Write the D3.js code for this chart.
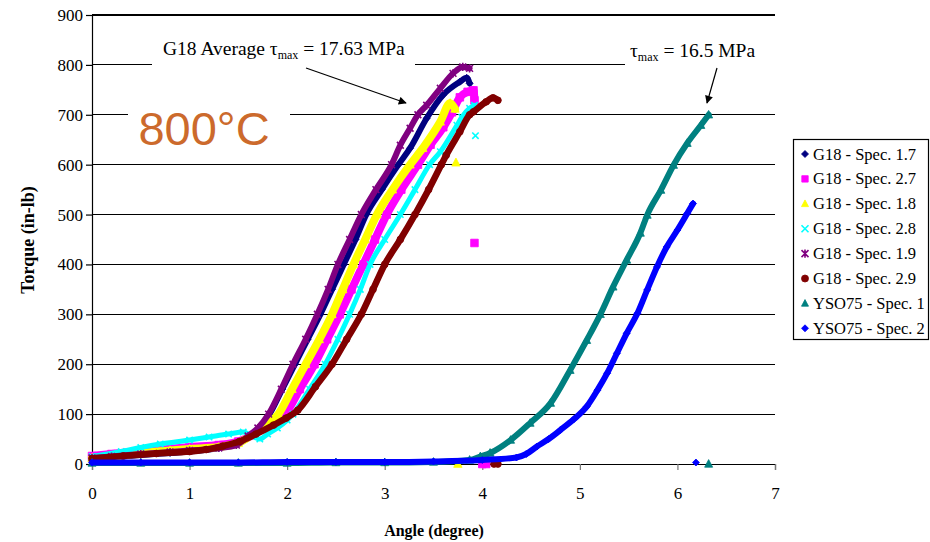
<!DOCTYPE html>
<html>
<head>
<meta charset="utf-8">
<script src="https://cdn.jsdelivr.net/npm/d3@7"></script>
<style>
  body { margin: 0; background: #fff; }
  svg { display: block; }
</style>
</head>
<body>
<svg id="chart" width="930" height="542"></svg>
<script>
// ---- data -------------------------------------------------------------
const angleTicks = [0, 1, 2, 3, 4, 5, 6, 7];
const torqueTicks = [0, 100, 200, 300, 400, 500, 600, 700, 800, 900];

const seriesNames = [
  "G18 - Spec. 1.7", "G18 - Spec. 2.7", "G18 - Spec. 1.8", "G18 - Spec. 2.8",
  "G18 - Spec. 1.9", "G18 - Spec. 2.9", "YSO75 - Spec. 1", "YSO75 - Spec. 2"
];
const seriesColors = ["#000080", "#FF00FF", "#FFFF00", "#00FFFF",
                      "#800080", "#800000", "#008080", "#0000FF"];
const seriesMarkers = ["diamond", "square", "triangle", "cross",
                       "star", "circle", "triangle", "diamond"];

// [angle (degree), torque (in-lb)]
const g18_17 = [[0,10],[0.2,14],[0.5,18],[0.8,22],[1.0,25],[1.3,32],[1.5,42],[1.6,52],[1.7,70],
  [1.82,100],[1.95,150],[2.08,200],[2.21,250],[2.34,300],[2.46,350],[2.58,400],[2.70,450],
  [2.81,500],[2.97,550],[3.14,600],[3.26,633],[3.43,693],[3.60,740],[3.77,766],[3.84,774],[3.87,763]];
const g18_27 = [[0,16],[0.2,20],[0.5,26],[0.8,30],[1.0,34],[1.3,38],[1.5,45],[1.65,58],[1.8,78],
  [1.98,100],[2.13,150],[2.28,200],[2.41,250],[2.54,300],[2.66,350],[2.78,400],[2.90,450],
  [3.02,500],[3.17,550],[3.34,600],[3.47,640],[3.60,675],[3.69,705],[3.77,735],[3.85,746],
  [3.91,749],[3.92,729]];
const g18_18 = [[0,12],[0.2,15],[0.5,22],[0.8,27],[1.0,30],[1.3,34],[1.5,42],[1.65,60],[1.8,80],
  [1.91,100],[2.05,150],[2.19,200],[2.33,250],[2.46,300],[2.57,350],[2.68,400],[2.80,450],
  [2.92,500],[3.08,550],[3.26,600],[3.39,633],[3.57,686],[3.67,723],[3.72,712]];
const g18_28 = [[0,15],[0.3,25],[0.5,33],[0.7,40],[1.0,48],[1.2,54],[1.4,60],[1.55,64],[1.65,55],
  [1.72,50],[1.8,60],[1.9,72],[2.0,88],[2.06,100],[2.23,150],[2.39,200],[2.52,250],[2.64,300],
  [2.75,350],[2.85,400],[3.0,450],[3.16,500],[3.31,550],[3.46,600],[3.57,626],[3.74,679],
  [3.79,695],[3.87,713],[3.92,719]];
const g18_19 = [[0,12],[0.2,15],[0.5,20],[0.8,24],[1.0,27],[1.3,32],[1.48,38],[1.6,56],[1.7,72],
  [1.81,100],[1.94,150],[2.06,200],[2.19,250],[2.31,300],[2.42,350],[2.52,400],[2.64,450],
  [2.76,500],[2.91,550],[3.07,600],[3.16,639],[3.26,673],[3.34,700],[3.43,719],[3.57,753],
  [3.70,783],[3.80,796],[3.87,793]];
const g18_29 = [[0,11],[0.32,16],[0.66,21],[1.0,25],[1.17,29],[1.34,36],[1.51,45],[1.68,60],
  [1.86,78],[1.99,92],[2.11,108],[2.29,155],[2.46,200],[2.61,250],[2.76,300],[2.88,350],
  [3.0,400],[3.16,450],[3.31,500],[3.45,550],[3.58,600],[3.63,619],[3.77,666],[3.87,700],
  [3.91,706],[4.04,726],[4.11,734],[4.16,729]];
const yso75_1 = [[0,2],[0.5,2],[1,2],[1.5,2],[2,2],[2.5,3],[3,3],[3.5,4],[3.87,8],[3.98,15],
  [4.08,22],[4.29,48],[4.49,82],[4.70,122],[4.90,188],[5.07,248],[5.21,300],[5.34,355],
  [5.48,409],[5.62,463],[5.69,499],[5.83,549],[5.96,599],[6.10,643],[6.24,679],[6.32,700]];
const yso75_2 = [[0,3],[0.5,3],[1,3],[1.5,3],[2,4],[2.5,4],[3,4],[3.5,5],[4,8],[4.35,13],
  [4.45,20],[4.56,35],[4.68,50],[4.80,68],[4.94,90],[5.07,115],[5.18,148],[5.28,182],
  [5.38,222],[5.48,262],[5.59,302],[5.69,349],[5.79,395],[5.89,435],[6.00,469],[6.10,502],
  [6.16,522]];

// isolated readings recorded after specimen failure
const g18_17_stray = [];
const g18_27_stray = [[3.92,443],[4.0,0],[4.04,0]];
const g18_18_stray = [[3.73,604],[3.75,0]];
const g18_28_stray = [[3.93,658]];
const g18_19_stray = [];
const g18_29_stray = [[4.12,0],[4.16,0]];
const yso75_1_stray = [[6.32,0]];
const yso75_2_stray = [[6.19,3]];

const seriesPoints = [g18_17, g18_27, g18_18, g18_28, g18_19, g18_29, yso75_1, yso75_2];
const seriesStray = [g18_17_stray, g18_27_stray, g18_18_stray, g18_28_stray,
                     g18_19_stray, g18_29_stray, yso75_1_stray, yso75_2_stray];

// ---- layout -----------------------------------------------------------
const svg = d3.select("#chart");
const serif = "'Liberation Serif', 'Times New Roman', serif";
const x = d3.scaleLinear().domain([0, 7]).range([92, 775]);
const y = d3.scaleLinear().domain([0, 900]).range([464, 15]);
const bandWidth = [6, 8, 8, 5, 6, 6.5, 6, 6];

// horizontal gridlines
svg.append("g").selectAll("line").data(torqueTicks.filter(t => t > 0)).join("line")
  .attr("x1", x(0)).attr("x2", x(7))
  .attr("y1", d => y(d)).attr("y2", d => y(d))
  .attr("stroke", "#000").attr("stroke-width", 1.2).attr("shape-rendering", "crispEdges");

// white label backgrounds that break the gridlines
svg.append("rect").attr("x", 152).attr("y", 36).attr("width", 263).attr("height", 34).attr("fill", "#fff");
svg.append("rect").attr("x", 625).attr("y", 36).attr("width", 160).attr("height", 34).attr("fill", "#fff");
svg.append("rect").attr("x", 128).attr("y", 92).attr("width", 162).attr("height", 66).attr("fill", "#fff");

// axes
const yAxis = svg.append("g").attr("transform", `translate(${x(0)},0)`)
  .call(d3.axisLeft(y).tickValues(torqueTicks).tickSize(6).tickPadding(3).tickFormat(d3.format("d")));
yAxis.select(".domain").attr("stroke", "#000").attr("stroke-width", 1.2);
yAxis.selectAll(".tick line").attr("stroke", "#000").attr("stroke-width", 1.2);
yAxis.selectAll(".tick text").attr("font-family", serif).attr("font-size", 17).attr("fill", "#000");

const xAxis = svg.append("g").attr("transform", `translate(0,${y(0)})`)
  .call(d3.axisBottom(x).tickValues(angleTicks).tickSize(6).tickPadding(17).tickFormat(d3.format("d")));
xAxis.select(".domain").attr("stroke", "#000").attr("stroke-width", 1.2);
xAxis.selectAll(".tick line").attr("stroke", "#777").attr("stroke-width", 1.2);
xAxis.selectAll(".tick text").attr("font-family", serif).attr("font-size", 17).attr("fill", "#000");

// axis titles
svg.append("text").attr("x", 434).attr("y", 536).attr("text-anchor", "middle")
  .attr("font-family", serif).attr("font-size", 16).attr("font-weight", "bold").text("Angle (degree)");
svg.append("text").attr("transform", "translate(34,240) rotate(-90)").attr("text-anchor", "middle")
  .attr("font-family", serif).attr("font-size", 18).attr("font-weight", "bold").text("Torque (in-lb)");

// ---- markers ----------------------------------------------------------
function markerPath(kind, s) {
  switch (kind) {
    case "diamond": return `M0,${-s}L${s},0L0,${s}L${-s},0Z`;
    case "square": return `M${-s},${-s}H${s}V${s}H${-s}Z`;
    case "triangle": return `M0,${-s * 1.1}L${s},${s * 0.8}L${-s},${s * 0.8}Z`;
    case "circle": return d3.symbol(d3.symbolCircle, Math.PI * s * s)();
    case "cross": return `M${-s},${-s}L${s},${s}M${-s},${s}L${s},${-s}`;
    case "star": return `M${-s},${-s}L${s},${s}M${-s},${s}L${s},${-s}M0,${-s * 1.2}V${s * 1.2}`;
  }
}
function drawMarker(sel, kind, color, s) {
  const open = kind === "cross" || kind === "star";
  return sel.append("path").attr("d", markerPath(kind, s))
    .attr("fill", open ? "none" : color)
    .attr("stroke", color).attr("stroke-width", open ? 1.6 : 0.8);
}

// ---- series -------------------------------------------------------------
const line = d3.line().x(d => x(d[0])).y(d => y(d[1])).curve(d3.curveMonotoneX);
const markerSize = [3.5, 3.8, 4.2, 3.2, 3.4, 3.4, 4, 3.5];

seriesPoints.forEach((pts, i) => {
  const g = svg.append("g");
  g.append("path").attr("d", line(pts)).attr("fill", "none")
    .attr("stroke", seriesColors[i]).attr("stroke-width", bandWidth[i])
    .attr("stroke-linejoin", "round").attr("stroke-linecap", "round");
  pts.concat(seriesStray[i]).forEach(p => {
    const m = g.append("g").attr("transform", `translate(${x(p[0])},${y(p[1])})`);
    drawMarker(m, seriesMarkers[i], seriesColors[i], markerSize[i]);
  });
});

// ---- annotations --------------------------------------------------------
svg.append("defs").append("marker").attr("id", "arrowhead")
  .attr("viewBox", "0 0 10 10").attr("refX", 9).attr("refY", 5)
  .attr("markerWidth", 10).attr("markerHeight", 8).attr("markerUnits", "userSpaceOnUse")
  .attr("orient", "auto")
  .append("path").attr("d", "M0,0L10,5L0,10Z").attr("fill", "#000");

const note1 = svg.append("text").attr("x", 163).attr("y", 55)
  .attr("font-family", serif).attr("font-size", 19.5).attr("fill", "#000");
note1.append("tspan").text("G18 Average \u03C4");
note1.append("tspan").attr("font-size", 12).attr("dy", 4).text("max");
note1.append("tspan").attr("dy", -4).text(" = 17.63 MPa");
svg.append("line").attr("x1", 306).attr("y1", 68).attr("x2", 406).attr("y2", 103)
  .attr("stroke", "#000").attr("stroke-width", 1.2).attr("marker-end", "url(#arrowhead)");

const note2 = svg.append("text").attr("x", 630).attr("y", 57)
  .attr("font-family", serif).attr("font-size", 19.5).attr("fill", "#000");
note2.append("tspan").text("\u03C4");
note2.append("tspan").attr("font-size", 12).attr("dy", 4).text("max");
note2.append("tspan").attr("dy", -4).text(" = 16.5 MPa");
svg.append("line").attr("x1", 717).attr("y1", 68).attr("x2", 707).attr("y2", 103)
  .attr("stroke", "#000").attr("stroke-width", 1.2).attr("marker-end", "url(#arrowhead)");

svg.append("text").attr("x", 204).attr("y", 145).attr("text-anchor", "middle")
  .attr("font-family", "'Liberation Sans', Arial, sans-serif").attr("font-size", 47)
  .attr("fill", "#CC6A2C").text("800\u00B0C");

// ---- legend -------------------------------------------------------------
const legend = svg.append("g");
legend.append("rect").attr("x", 793.5).attr("y", 139.5).attr("width", 135).attr("height", 200)
  .attr("fill", "#fff").attr("stroke", "#000").attr("stroke-width", 1.2);
seriesNames.forEach((name, i) => {
  const cy = 154 + i * 24.9;
  const m = legend.append("g").attr("transform", `translate(805,${cy})`);
  drawMarker(m, seriesMarkers[i], seriesColors[i], seriesMarkers[i] === "square" ? 3.2 : 3.5);
  legend.append("text").attr("x", 813).attr("y", cy + 5.5)
    .attr("font-family", serif).attr("font-size", 16.5).attr("fill", "#000").text(name);
});
</script>
</body>
</html>
